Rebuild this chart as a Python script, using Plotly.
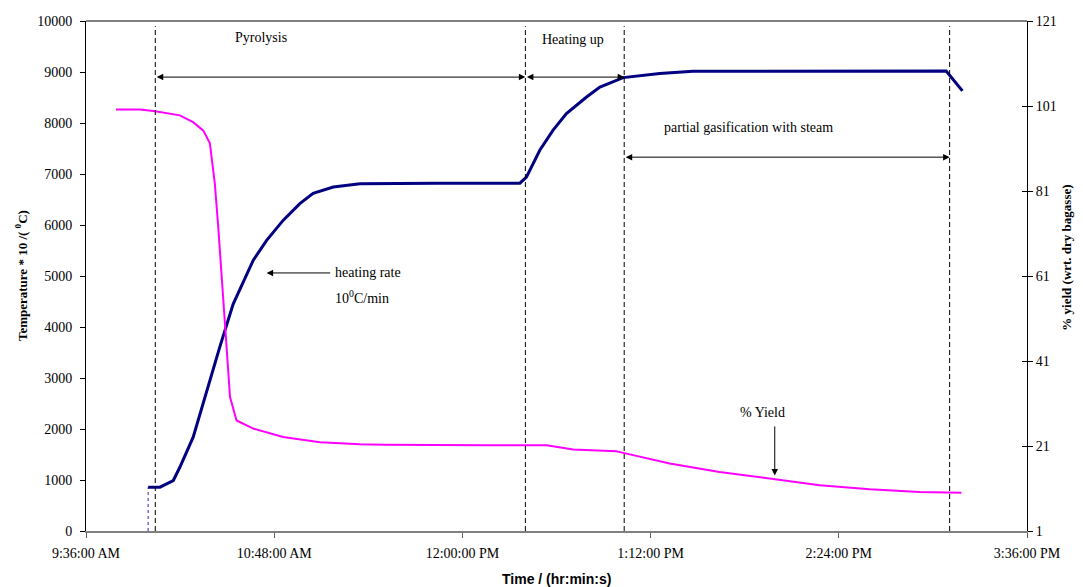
import plotly.graph_objects as go

DAY = "2000-01-01 "

# Temperature * 10 (left axis)
temp_time = ["09:59:48", "09:59:48", "10:04:18", "10:09:24", "10:11:54", "10:17:00", "10:22:12",
             "10:27:12", "10:32:18", "10:40:00", "10:45:06", "10:51:24", "10:57:48", "11:02:54",
             "11:10:36", "11:20:48", "11:50:00", "12:22:00", "12:24:30", "12:29:36", "12:34:42",
             "12:39:48", "12:47:30", "12:52:36", "13:01:30", "13:15:30", "13:28:12", "15:05:06",
             "15:06:24", "15:11:18"]
temp_value = [0, 860, 860, 990, 1250, 1840, 2760, 3610, 4450, 5310, 5700, 6090, 6420, 6620,
              6745, 6810, 6820, 6820, 6940, 7465, 7860, 8185, 8510, 8705, 8890, 8970, 9015, 9020,
              8935, 8630]

# % yield (right axis)
yield_time = ["09:47:30", "09:56:42", "10:02:30", "10:11:54", "10:17:00", "10:20:54", "10:23:24",
              "10:25:18", "10:26:36", "10:27:54", "10:28:30", "10:29:12", "10:29:48", "10:31:06",
              "10:33:36", "10:40:00", "10:51:24", "11:05:30", "11:20:48", "11:29:42", "12:09:12",
              "12:32:12", "12:42:24", "12:58:54", "13:02:48", "13:19:18", "13:38:24", "13:58:48",
              "14:16:42", "14:35:48", "14:54:54", "15:10:54"]
yield_value = [100.2, 100.2, 99.75, 98.8, 97.2, 95.2, 92.2, 82.7, 72.5, 60.8, 55.3, 49.8, 41.9,
               32.5, 27.0, 25.1, 23.1, 21.9, 21.4, 21.3, 21.2, 21.2, 20.15, 19.75, 19.2, 16.9,
               14.9, 13.3, 11.75, 10.8, 10.2, 10.0]

# phase boundaries (dashed lines)
phase_time = ["10:02:30", "12:24:06", "13:01:54", "15:06:24"]

x_tick_time = ["09:36:00", "10:48:00", "12:00:00", "13:12:00", "14:24:00", "15:36:00"]
x_tick_text = ["9:36:00 AM", "10:48:00 AM", "12:00:00 PM", "1:12:00 PM", "2:24:00 PM", "3:36:00 PM"]
left_ticks = list(range(0, 10001, 1000))
right_ticks = [1, 21, 41, 61, 81, 101, 121]

SERIF = "Liberation Serif"
SANS = "Liberation Sans"


def t(s):
    return DAY + s


fig = go.Figure()

# initial vertical jump (thin light line)
fig.add_trace(go.Scatter(x=[t(s) for s in temp_time[:2]], y=temp_value[:2], mode="lines",
                         line=dict(color="#7070d0", width=1.5, dash="dot"), showlegend=False,
                         hoverinfo="skip"))
fig.add_trace(go.Scatter(x=[t(s) for s in temp_time[1:]], y=temp_value[1:], mode="lines",
                         line=dict(color="#000080", width=3), name="Temperature",
                         showlegend=False))
fig.add_trace(go.Scatter(x=[t(s) for s in yield_time], y=yield_value, mode="lines",
                         line=dict(color="#FF00FF", width=2), name="% Yield", yaxis="y2",
                         showlegend=False))
# dummy trace to carry inside ticks of the right axis
fig.add_trace(go.Scatter(x=[], y=[], yaxis="y3", showlegend=False))

shapes = []
for p in phase_time:
    shapes.append(dict(type="line", xref="x", yref="paper", x0=t(p), x1=t(p), y0=0, y1=0.99,
                       line=dict(color="black", width=1, dash="5px,3px")))
shapes.append(dict(type="line", xref="paper", yref="paper", x0=0, x1=1, y0=1, y1=1,
                   line=dict(color="black", width=1)))

ann_font = dict(family=SERIF, size=14, color="black")
annotations = []


def darrow(x0, x1, y):
    annotations.append(dict(x=t(x1), y=y, ax=t(x0), ay=y, xref="x", yref="y", axref="x",
                            ayref="y", text="", showarrow=True, arrowhead=2, startarrowhead=2,
                            arrowside="end+start", arrowsize=1.3, arrowwidth=1,
                            arrowcolor="black"))


darrow(phase_time[0], phase_time[1], 8900)
darrow(phase_time[1], phase_time[2], 8900)
darrow(phase_time[2], phase_time[3], 7330)

annotations += [
    dict(x=t("10:43:06"), y=9680, text="Pyrolysis", showarrow=False, font=ann_font),
    dict(x=t("12:42:12"), y=9640, text="Heating up", showarrow=False, font=ann_font),
    dict(x=t("13:49:30"), y=7920, text="partial gasification with steam", showarrow=False,
         font=ann_font),
    dict(x=t("11:10:20"), y=5060, text="heating rate", showarrow=False, xanchor="left",
         font=ann_font),
    dict(x=t("11:10:20"), y=4580, text="10<sup>0</sup>C/min", showarrow=False, xanchor="left",
         font=ann_font),
    dict(x=t("10:45:06"), y=5060, ax=t("11:10:00"), ay=5060, xref="x", yref="y", axref="x",
         ayref="y", text="", showarrow=True, arrowhead=2, arrowsize=1.3, arrowwidth=1,
         arrowcolor="black"),
    dict(x=t("13:54:42"), y=2320, text="% Yield", showarrow=False, font=ann_font),
    dict(x=t("13:59:30"), y=1090, ax=t("13:59:30"), ay=2080, xref="x", yref="y", axref="x",
         ayref="y", text="", showarrow=True, arrowhead=2, arrowsize=1.3, arrowwidth=1,
         arrowcolor="black"),
    # axis titles
    dict(x=-0.069, y=0.5, xref="paper", yref="paper", xanchor="center", yanchor="middle",
         textangle=-90, showarrow=False,
         text="<b>Temperature * 10 /( <sup>0</sup>C)</b>",
         font=dict(family=SERIF, size=13, color="black")),
    dict(x=1.042, y=0.535, xref="paper", yref="paper", xanchor="center", yanchor="middle",
         textangle=-90, showarrow=False,
         text="<b>% yield (wrt. dry bagasse)</b>",
         font=dict(family=SERIF, size=13, color="black")),
    dict(x=0.5, y=-0.095, xref="paper", yref="paper", xanchor="center", yanchor="middle",
         showarrow=False,
         text="<b>Time / (hr:min:s)</b>", font=dict(family=SANS, size=14, color="black")),
]

fig.update_layout(
    width=1083, height=587,
    margin=dict(l=78, r=64, t=13, b=64),
    paper_bgcolor="white", plot_bgcolor="white",
    showlegend=False,
    font=dict(family=SERIF, size=14, color="black"),
    xaxis=dict(type="date", range=[t(x_tick_time[0]), t(x_tick_time[-1])],
               tickvals=[t(s) for s in x_tick_time], ticktext=x_tick_text, automargin=False,
               showgrid=False, zeroline=False, showline=True, linecolor="#808080", linewidth=2,
               ticks="outside", ticklen=5, tickcolor="#606060", tickwidth=1,
               ticklabelstandoff=3,
               tickfont=dict(family=SERIF, size=14, color="black")),
    yaxis=dict(range=[0, 10000], tickvals=left_ticks, ticktext=[str(v) for v in left_ticks],
               automargin=False, showgrid=False, zeroline=False,
               showline=True, linecolor="black", linewidth=1, ticks="outside", ticklen=5,
               ticklabelstandoff=5,
               tickcolor="black", tickfont=dict(family=SERIF, size=14, color="black")),
    yaxis2=dict(range=[1, 121], tickvals=right_ticks, overlaying="y", side="right",
                automargin=False, showgrid=False, zeroline=False, showline=True,
                linecolor="black", linewidth=1,
                ticks="outside", ticklen=5, tickcolor="black",
                tickfont=dict(family=SERIF, size=14, color="black")),
    yaxis3=dict(range=[1, 121], tickvals=right_ticks, overlaying="y", side="right",
                automargin=False, showgrid=False, zeroline=False, showline=False,
                ticks="inside", ticklen=5, tickcolor="black", showticklabels=False),
    shapes=shapes,
    annotations=annotations,
)

fig.write_html("out.html")
